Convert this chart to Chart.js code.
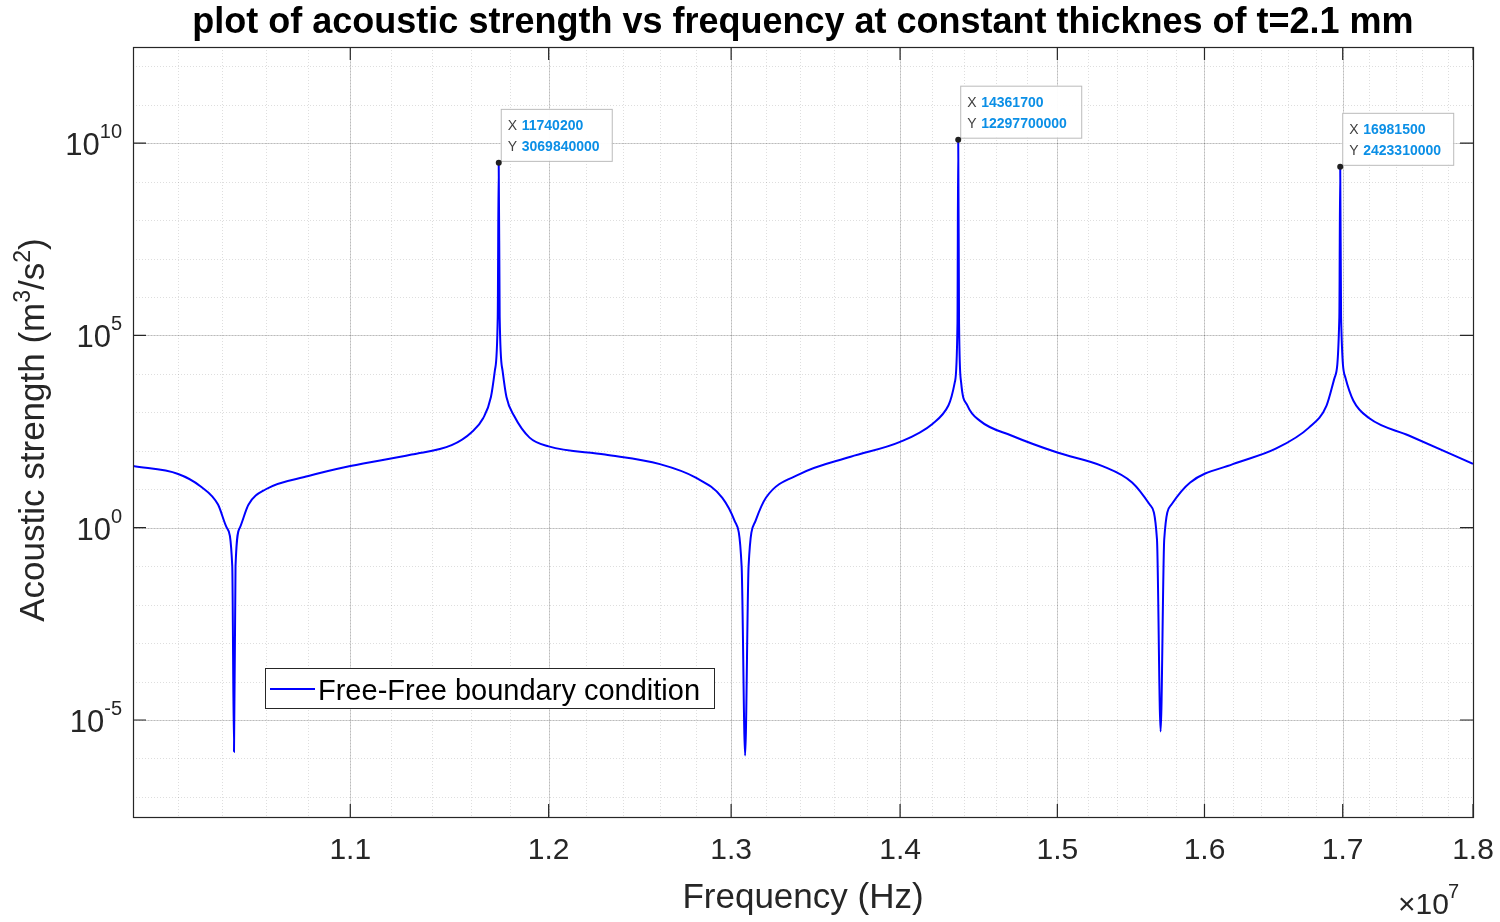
<!DOCTYPE html>
<html><head><meta charset="utf-8">
<script src="https://cdn.jsdelivr.net/npm/chart.js@4.4.1/dist/chart.umd.min.js"></script>
<style>html,body{margin:0;padding:0;background:#fff}#w{width:1500px;height:922px}</style>
</head><body><div id="w"><canvas id="c"></canvas></div>
<script>
const freqHz = [1.0,1.02,1.03,1.038,1.042,1.0445,1.0453,1.046,1.048,1.052,1.06,1.08,1.1,1.13,1.15,1.16,1.166,1.17,1.172,1.1735,1.1740,1.1745,1.176,1.178,1.182,1.19,1.2,1.23,1.26,1.28,1.295,1.302,1.306,1.308,1.310,1.314,1.32,1.34,1.37,1.40,1.42,1.43,1.434,1.4357,1.43617,1.4367,1.438,1.442,1.45,1.47,1.5,1.53,1.55,1.562,1.567,1.5695,1.572,1.577,1.59,1.62,1.65,1.675,1.688,1.694,1.6975,1.69815,1.6988,1.702,1.708,1.72,1.75,1.8].map(v=>v*1e7);
const strength = [40,25,12,4,1,0.1,1.5e-6,0.1,1,4,10,22,40,80,140,300,700,2500,1.2e4,3e5,3.06984e9,3e5,1.2e4,2500,800,220,130,80,45,20,6,1.5,0.1,1.2e-6,0.1,1.5,6,25,70,170,500,1500,6000,2e5,1.22977e10,2e5,6000,1500,600,250,90,40,15,4,0.5,5e-6,0.5,4,15,45,110,400,1500,8000,3e5,2.42331e9,3e5,8000,2000,700,250,46];
const peaks = [[11740200,3069840000],[14361700,12297700000],[16981500,2423310000]];
const xMajor = [1.1,1.2,1.3,1.4,1.5,1.6,1.7,1.8];
const yMajorExp = [-5,0,5,10];
const titleText = 'plot of acoustic strength vs frequency at constant thicknes of t=2.1 mm';
const legendText = 'Free-Free boundary condition';

const F = '"Liberation Sans", Arial, sans-serif';
const deco = {
  id:'deco',
  beforeDatasetsDraw(ch){
    const c=ch.ctx, a=ch.chartArea, xs=ch.scales.x, ys=ch.scales.y;
    c.save();
    c.lineWidth=1;
    c.strokeStyle='rgba(0,0,0,0.13)'; c.setLineDash([1,2]);
    for(let v=1.0;v<1.8001;v+=0.02){const p=Math.round(xs.getPixelForValue(v*1e7))+0.5;c.beginPath();c.moveTo(p,a.top);c.lineTo(p,a.bottom);c.stroke();}
    for(let e=-7;e<=12;e++){const p=Math.round(ys.getPixelForValue(Math.pow(10,e)))+0.5;c.beginPath();c.moveTo(a.left,p);c.lineTo(a.right,p);c.stroke();}
    c.setLineDash([]); c.strokeStyle='rgba(0,0,0,0.16)';
    xMajor.forEach(v=>{const p=Math.round(xs.getPixelForValue(v*1e7))+0.5;c.beginPath();c.moveTo(p,a.top);c.lineTo(p,a.bottom);c.stroke();});
    yMajorExp.forEach(e=>{const p=Math.round(ys.getPixelForValue(Math.pow(10,e)))+0.5;c.beginPath();c.moveTo(a.left,p);c.lineTo(a.right,p);c.stroke();});
    c.restore();
  },
  afterDraw(ch){
    const c=ch.ctx, a=ch.chartArea, xs=ch.scales.x, ys=ch.scales.y;
    c.save();
    c.strokeStyle='#262626'; c.lineWidth=1.2;
    c.strokeRect(a.left+0.5,a.top+0.5,a.right-a.left,a.bottom-a.top);
    c.beginPath();
    xMajor.forEach(v=>{const p=xs.getPixelForValue(v*1e7);c.moveTo(p,a.bottom);c.lineTo(p,a.bottom-13);c.moveTo(p,a.top);c.lineTo(p,a.top+13);});
    yMajorExp.forEach(e=>{const p=ys.getPixelForValue(Math.pow(10,e));c.moveTo(a.left,p);c.lineTo(a.left+13,p);c.moveTo(a.right,p);c.lineTo(a.right-13,p);});
    c.stroke();
    c.fillStyle='#262626';
    c.font='30px '+F; c.textAlign='center'; c.textBaseline='top';
    xMajor.forEach(v=>c.fillText(v.toFixed(1),xs.getPixelForValue(v*1e7),836));
    yMajorExp.forEach(e=>{
      const p=ys.getPixelForValue(Math.pow(10,e));
      c.font='20px '+F; const sw=c.measureText(String(e)).width;
      c.textAlign='left'; c.textBaseline='alphabetic';
      c.fillText(String(e),122-sw,p-5);
      c.font='31px '+F; c.textAlign='right';
      c.fillText('10',122-sw,p+12);
    });
    c.textAlign='left'; c.font='30px '+F; c.fillText('\u00d710',1398,914);
    c.font='20px '+F; c.fillText('7',1448,898);
    c.font='35px '+F; c.textAlign='center'; c.fillText('Frequency (Hz)',803,908);
    c.save(); c.translate(44,430); c.rotate(-Math.PI/2);
    c.textAlign='left';
    const parts=[['Acoustic strength (m',0],['3',1],['/s',0],['2',1],[')',0]];
    let tw=0; parts.forEach(p=>{c.font=(p[1]?'23px ':'35px ')+F;tw+=c.measureText(p[0]).width;});
    let x=-tw/2;
    parts.forEach(p=>{c.font=(p[1]?'23px ':'35px ')+F;c.fillText(p[0],x,p[1]?-14:0);x+=c.measureText(p[0]).width;});
    c.restore();
    c.font='bold 36px '+F; c.textAlign='center'; c.fillStyle='#000'; c.fillText(titleText,803,33);
    c.fillStyle='#fff'; c.fillRect(265,668,449,40); c.strokeStyle='#262626'; c.lineWidth=1; c.strokeRect(265.5,668.5,449,40);
    c.strokeStyle='#0000ff'; c.lineWidth=2; c.beginPath(); c.moveTo(270,689); c.lineTo(315,689); c.stroke();
    c.fillStyle='#000'; c.font='29px '+F; c.textAlign='left'; c.fillText(legendText,318,700);
    peaks.forEach(pk=>{
      const px=xs.getPixelForValue(pk[0]), py=ys.getPixelForValue(pk[1]);
      const bx=px+2, by=py-54, bw=(String(pk[1]).length>10?121:111), bh=52;
      c.fillStyle='rgba(255,255,255,0.95)'; c.fillRect(bx,by,bw,bh);
      c.strokeStyle='#bbbbbb'; c.lineWidth=1; c.strokeRect(bx+0.5,by+0.5,bw,bh);
      c.font='14px '+F; c.fillStyle='#404040'; c.fillText('X',bx+7,by+21); c.fillText('Y',bx+7,by+42);
      c.font='bold 14px '+F; c.fillStyle='#0b8fe6';
      c.fillText(String(pk[0]),bx+21,by+21); c.fillText(String(pk[1]),bx+21,by+42);
      c.fillStyle='#202020'; c.beginPath(); c.arc(px,py,3,0,Math.PI*2); c.fill();
    });
    c.restore();
  }
};
new Chart(document.getElementById('c'),{
  type:'line',
  data:{datasets:[{data:freqHz.map((f,i)=>({x:f,y:strength[i]})),borderColor:'#0000ff',borderWidth:2,pointRadius:0,cubicInterpolationMode:'monotone',fill:false}]},
  options:{
    responsive:true,maintainAspectRatio:false,animation:false,
    layout:{padding:{left:125,right:27,top:47,bottom:97}},
    plugins:{legend:{display:false},tooltip:{enabled:false}},
    scales:{
      x:{type:'logarithmic',min:1e7,max:1.8e7,ticks:{display:false},grid:{display:false},border:{display:false}},
      y:{type:'logarithmic',min:Math.pow(10,-7.5),max:Math.pow(10,12.5),ticks:{display:false},grid:{display:false},border:{display:false}}
    }
  },
  plugins:[deco]
});
</script></body></html>
